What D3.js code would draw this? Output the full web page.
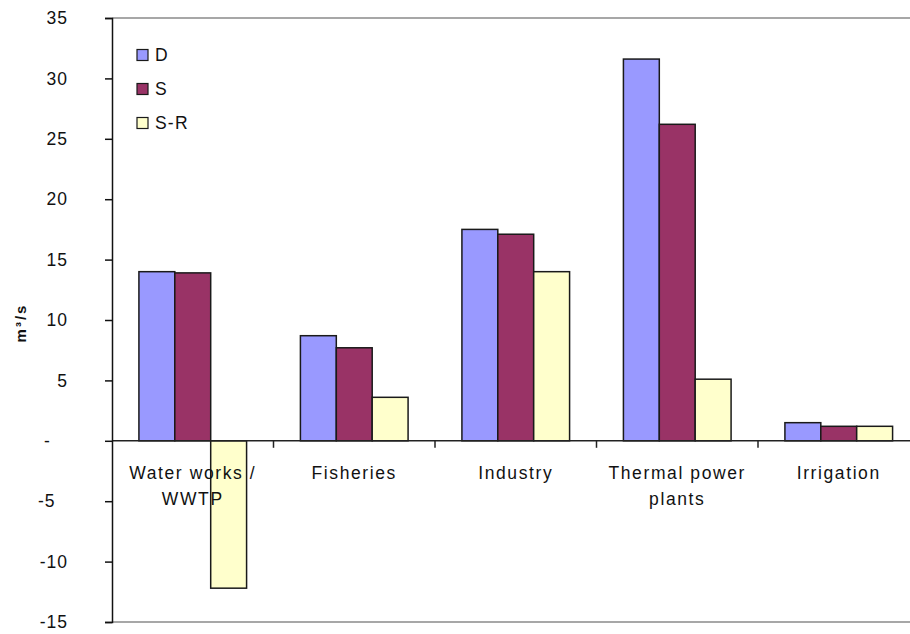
<!DOCTYPE html>
<html>
<head>
<meta charset="utf-8">
<script src="https://cdn.jsdelivr.net/npm/d3@7"></script>
<style>
  html, body { margin: 0; padding: 0; background: #fff; }
  svg { display: block; }
  text { font-family: "Liberation Sans", Arial, sans-serif; fill: #111; }
</style>
</head>
<body>
<svg id="chart" width="910" height="634"></svg>
<script>
// ---- data ----
const categories = ["Water works /\nWWTP", "Fisheries", "Industry", "Thermal power\nplants", "Irrigation"];
const seriesNames = ["D", "S", "S-R"];
const valuesD  = [14.0, 8.7, 17.5, 31.6, 1.5];
const valuesS  = [13.9, 7.7, 17.1, 26.2, 1.2];
const valuesSR = [-12.2, 3.6, 14.0, 5.1, 1.2];
const yTicks = [-15, -10, -5, 0, 5, 10, 15, 20, 25, 30, 35];
const yLabel = "m³/s";
const colors = ["#9999FF", "#993366", "#FFFFCC"];

(function () {
const seriesValues = [valuesD, valuesS, valuesSR];
const rows = categories.map((c, i) => ({
  cat: c,
  vals: seriesNames.map((s, k) => ({ key: s, value: seriesValues[k][i], k }))
}));

const svg = d3.select("#chart");
const pLeft = 112, pRight = 919.5, pTop = 18, pBottom = 622;

const x0 = d3.scaleBand().domain(categories).range([pLeft, pRight])
  .paddingInner(1.5 / 4.5).paddingOuter(0.75 / 4.5);
const x1 = d3.scaleBand().domain(seriesNames).range([0, x0.bandwidth()]).padding(0);
const y = d3.scaleLinear().domain([-15, 35]).range([pBottom, pTop]);

// plot border (top / bottom, gray)
svg.append("line").attr("x1", pLeft).attr("x2", 910).attr("y1", pTop).attr("y2", pTop)
  .attr("stroke", "#8a8a8a").attr("stroke-width", 1.5);
svg.append("line").attr("x1", pLeft).attr("x2", 910).attr("y1", pBottom).attr("y2", pBottom)
  .attr("stroke", "#8a8a8a").attr("stroke-width", 1.5);

// bars
const g = svg.append("g").selectAll("g").data(rows).join("g")
  .attr("transform", d => `translate(${x0(d.cat)},0)`);
g.selectAll("rect").data(d => d.vals).join("rect")
  .attr("x", d => x1(d.key))
  .attr("width", x1.bandwidth())
  .attr("y", d => y(Math.max(0, d.value)))
  .attr("height", d => Math.abs(y(d.value) - y(0)))
  .attr("fill", d => colors[d.k])
  .attr("stroke", "#1a1a1a")
  .attr("stroke-width", 1.5);

// zero line (category axis)
svg.append("line").attr("x1", pLeft).attr("x2", 910).attr("y1", y(0)).attr("y2", y(0))
  .attr("stroke", "#222").attr("stroke-width", 1.5);
// category tick marks
const catBounds = categories.slice(1).map(c => x0(c) - x0.step() * x0.paddingInner() / 2);
svg.append("g").selectAll("line").data(catBounds).join("line")
  .attr("x1", d => d).attr("x2", d => d)
  .attr("y1", y(0)).attr("y2", y(0) + 7)
  .attr("stroke", "#222").attr("stroke-width", 1.5);

// category labels
const lab = svg.append("g").selectAll("text").data(categories).join("text")
  .attr("text-anchor", "middle")
  .attr("font-size", 17.5)
  .attr("letter-spacing", 1.6)
  .attr("transform", d => `translate(${x0(d) + x0.bandwidth() / 2},${y(0) + 38})`);
lab.selectAll("tspan").data(d => d.split("\n")).join("tspan")
  .attr("x", 0).attr("dy", (d, i) => i === 0 ? 0 : 26).text(d => d);

// y axis
const yAxis = d3.axisLeft(y).tickValues(yTicks).tickSize(7).tickFormat(() => "");
const ya = svg.append("g").attr("transform", `translate(${pLeft},0)`).call(yAxis);
ya.select(".domain").attr("stroke", "#111").attr("stroke-width", 1.5);
ya.selectAll(".tick line").attr("stroke", "#111").attr("stroke-width", 1.5);

// y tick labels
const yl = svg.append("g");
yTicks.forEach(t => {
  if (t === 0) {
    yl.append("text").attr("x", 44).attr("y", y(t)).attr("dy", "0.35em")
      .attr("font-size", 17.5).text("-");
  } else if (t === -5) {
    yl.append("text").attr("x", 38).attr("y", y(t)).attr("dy", "0.35em")
      .attr("letter-spacing", 1).attr("font-size", 17.5).text(String(t));
  } else {
    yl.append("text").attr("x", 68).attr("y", y(t)).attr("dy", "0.35em")
      .attr("text-anchor", "end").attr("letter-spacing", 1).attr("font-size", 17.5).text(String(t));
  }
});

// y axis title
svg.append("text")
  .attr("transform", `translate(26,${(pTop + pBottom) / 2 + 3}) rotate(-90)`)
  .attr("text-anchor", "middle")
  .attr("font-size", 15).attr("font-weight", "bold").attr("letter-spacing", 2)
  .text(yLabel);

// legend
const leg = svg.append("g").selectAll("g").data(seriesNames).join("g")
  .attr("transform", (d, i) => `translate(137,${55 + i * 34})`);
leg.append("rect").attr("x", 0).attr("y", -5.5).attr("width", 11).attr("height", 11)
  .attr("fill", (d, i) => colors[i]).attr("stroke", "#1a1a1a").attr("stroke-width", 1.2);
leg.append("text").attr("x", 18).attr("y", 0).attr("dy", "0.36em")
  .attr("font-size", 17.5).attr("letter-spacing", 1.2).text(d => d);
})();
</script>
</body>
</html>
